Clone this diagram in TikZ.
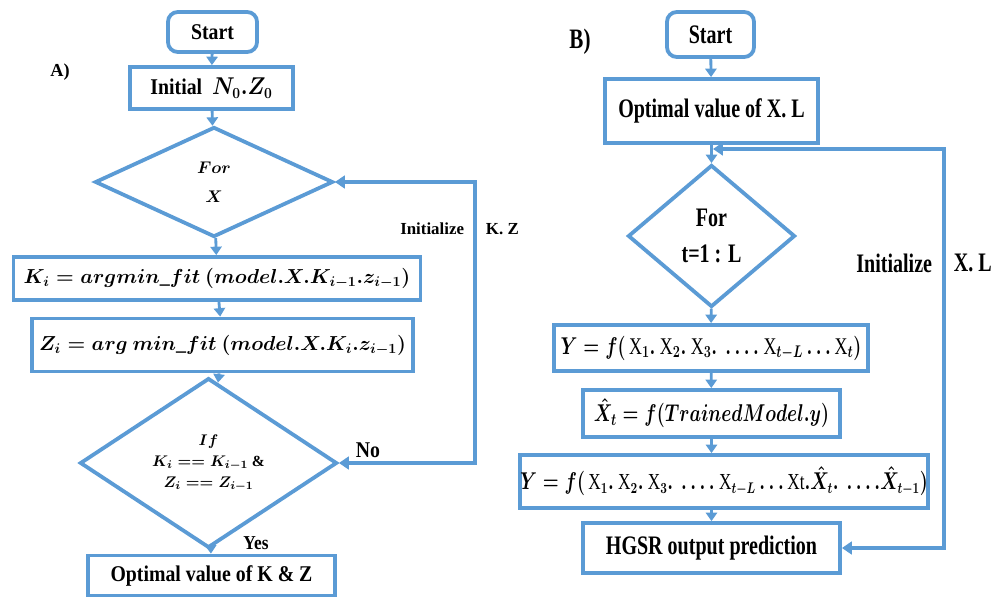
\documentclass[tikz,border=0pt]{standalone}
\usepackage{fontspec}
\setmainfont{Liberation Serif}
\usepackage{amsmath}
\usepackage{graphicx}
\usetikzlibrary{shapes.geometric,arrows.meta}
\definecolor{fblue}{RGB}{91,155,213}
\newcommand\sqL[1]{\scalebox{0.88}[1]{#1}}
\newcommand\sqR[1]{\scalebox{0.75}[1]{#1}}
\newcommand\uX{\textnormal{X}}
\begin{document}
\begin{tikzpicture}[x=0.025cm,y=-0.025cm,
  box/.style={draw=fblue, line width=2.7pt, fill=white, inner sep=0pt, align=center},
  rbox/.style={box, rounded corners=7pt},
  dia/.style={draw=fblue, line width=2.7pt, diamond, inner sep=0pt, align=center},
  conn/.style={draw=fblue, line width=2pt, -{Triangle[length=6pt,width=8pt]}},
  loop/.style={draw=fblue, line width=2.5pt, {Triangle[length=7pt,width=9pt]}-{Triangle[length=7pt,width=9pt]}},
  fL/.style={font=\bfseries\boldmath\fontsize{16}{18}\selectfont},
  fLm/.style={font=\bfseries\boldmath\fontsize{14.2}{17}\selectfont},
  fLs/.style={font=\bfseries\boldmath\fontsize{11}{15}\selectfont},
  fLl/.style={font=\bfseries\fontsize{12}{14}\selectfont},
  fR/.style={font=\bfseries\boldmath\fontsize{19}{23}\selectfont},
  fRm/.style={font=\bfseries\boldmath\fontsize{17}{20}\selectfont},
]
\useasboundingbox (0,0) rectangle (1002,598);

% ---------- Panel A ----------
\node[font=\bfseries\fontsize{13}{15}\selectfont] (labA) at (60,72) {A)};
\node[rbox, fL, minimum width=2.225cm, minimum height=1.0cm] (sA) at (212.5,32) {\sqL{Start}};
\node[box, fL, minimum width=4.075cm, minimum height=1.05cm] (iA) at (211.5,88) {\sqL{Initial \ $N_0.Z_0$}};
\node[dia, font=\bfseries\boldmath\fontsize{13}{21}\selectfont, minimum width=5.95cm, minimum height=2.75cm] (fX) at (214,182) {$For$\\$X$};
\node[box, fLm, minimum width=10.175cm, minimum height=1.075cm] (kA) at (217,278.5) {$K_i = argmin\_fit\ (model.X.K_{i-1}.z_{i-1})$};
\node[box, fLm, minimum width=9.525cm, minimum height=1.325cm] (zA) at (222.5,345) {$Z_i = arg\ min\_fit\ (model.X.K_i.z_{i-1})$};
\node[dia, fLs, minimum width=6.425cm, minimum height=3.55cm] (ifA) at (208.5,463) {$If$\\$K_i == K_{i-1}$ \&\\$Z_i == Z_{i-1}$};
\node[box, fL, minimum width=6.175cm, minimum height=1.0cm] (oA) at (211.5,575.5) {\sqL{Optimal value of K \& Z}};

\draw[conn] (sA) -- (iA);
\draw[conn] (iA) -- (fX);
\draw[conn] (fX) -- (kA);
\draw[conn] (kA) -- (zA);
\draw[conn] (zA) -- (ifA);
\draw[conn] (ifA) -- (oA);
\coordinate (rA) at (475,300);
\draw[loop] (ifA.east) -- (ifA.east -| rA) -- (fX.east -| rA) -- (fX.east);
\node[fLl, anchor=east] (initA) at (469,229) {Initialize};
\node[fLl, anchor=west] (kzA) at (481,229) {K. Z};
\node[font=\bfseries\fontsize{16}{18}\selectfont] (noA) at (368,450) {\sqL{No}};
\node[font=\bfseries\fontsize{14}{16}\selectfont] (yesA) at (256,543) {\sqL{Yes}};

% ---------- Panel B ----------
\node[font=\bfseries\fontsize{20}{22}\selectfont] (labB) at (580,42) {\sqR{B)}};
\node[rbox, fR, minimum width=2.175cm, minimum height=1.125cm] (sB) at (710.5,34.5) {\sqR{Start}};
\node[box, fR, minimum width=5.325cm, minimum height=1.6cm] (oB) at (711.5,111) {\sqR{Optimal value of X. L}};
\node[dia, fR, minimum width=4.175cm, minimum height=3.55cm] (fT) at (711.5,236) {\sqR{For}\\[3pt]\sqR{t=1 : L}};
\node[box, fRm, minimum width=7.85cm, minimum height=1.15cm] (yB) at (711,348) {\sqR{$Y = f(\,\uX_1.\ \uX_2.\ \uX_3.\ \dots.\ \uX_{t-L}\dots\uX_t)$}};
\node[box, font=\bfseries\boldmath\fontsize{18}{20}\selectfont, minimum width=6.425cm, minimum height=1.175cm] (xB) at (711.5,413.5) {\sqR{$\hat{X}_t = f(TrainedModel.y)$}};
\node[box, font=\bfseries\boldmath\fontsize{16.3}{20}\selectfont, minimum width=10.1cm, minimum height=1.325cm] (y2B) at (724,481.5) {\sqR{$Y = f(\,\uX_1.\ \uX_2.\ \uX_3.\ \dots.\ \uX_{t-L}\dots\textnormal{Xt}.\hat{X}_t.\ \dots.\hat{X}_{t-1})$}};
\node[box, fR, minimum width=6.425cm, minimum height=1.25cm] (hB) at (711.5,548) {\sqR{HGSR output prediction}};

\draw[conn] (sB) -- (oB);
\draw[conn] (oB) -- (fT);
\draw[conn] (fT) -- (yB);
\draw[conn] (yB) -- (xB);
\draw[conn] (xB) -- (y2B.north -| xB.south);
\draw[conn] (y2B.south -| hB.north) -- (hB);
\coordinate (rB) at (944,149);
\coordinate (jB) at (713,149);
\draw[loop] (hB.east) -- (hB.east -| rB) -- (rB) -- (jB);
\node[fR, anchor=east] (initB) at (937,263) {\sqR{Initialize}};
\node[fR, anchor=west] (xlB) at (949,263) {\sqR{X. L}};
\end{tikzpicture}
\end{document}
